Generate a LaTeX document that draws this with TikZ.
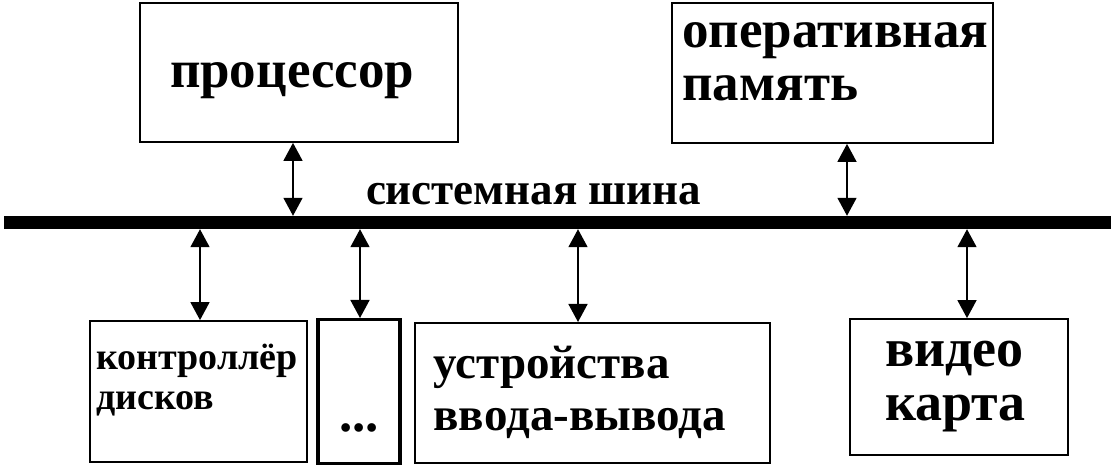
\documentclass[tikz,border=0pt]{standalone}
\usepackage{fontspec}
\setmainfont{Liberation Serif}
\usetikzlibrary{arrows.meta,positioning}
\tikzset{
  blok/.style    = {draw, line width=1.8pt, inner ysep=0pt, align=left},
  kropki/.style  = {draw, line width=3.4pt, inner sep=0pt},
  shina/.style   = {fill=black, inner sep=0pt, minimum width=1107pt, minimum height=13pt},
  strelka/.style = {{Triangle[length=18pt,width=19pt]}-{Triangle[length=18pt,width=19pt]},
                    line width=1.6pt},
  bolshoj/.style = {font=\fontsize{53}{53}\selectfont\bfseries},
  srednij/.style = {font=\fontsize{47}{52}\selectfont\bfseries},
  malyj/.style   = {font=\fontsize{38}{40}\selectfont\bfseries},
}

\begin{document}
\begin{tikzpicture}[x=1pt, y=1pt, node distance=11pt and 12pt]
  \useasboundingbox (0,0) rectangle (1116,466);

  \node[shina] (shina) at (557.5,243.5) {};
  \node[font=\fontsize{45}{45}\selectfont\bfseries, anchor=base] (nazv) at (533.5,261) {системная шина};

  \node[blok, bolshoj, minimum width=318pt, minimum height=139pt, inner xsep=30pt, text width=258pt,
        text height=31pt, text depth=0pt] (proc) at (299,393.5) {процессор};
  \node[blok, minimum width=321pt, minimum height=140pt,
        label={[bolshoj, align=left, anchor=north west, inner sep=0pt, xshift=11pt, yshift=-20pt]north west:оперативная\\память}]
        (ozu) at (832.5,393) {};

  \node[blok, minimum width=217pt, minimum height=141pt,
        label={[malyj, align=left, anchor=north west, inner sep=0pt, xshift=7pt, yshift=-24pt]north west:контроллёр\\дисков}]
        (kontr) at (198.5,74.5) {};
  \node[kropki, minimum width=82pt, minimum height=144pt, anchor=north,
        label={[bolshoj, anchor=south, yshift=30pt]south:...}]
        (dots) at (359,148) {};
  \node[blok, srednij, minimum width=355pt, minimum height=140pt, inner xsep=19pt, text width=317pt,
        right=12pt of dots.north east, anchor=north west, yshift=-4pt] (vvod) {устройства\\ввода-вывода};
  \node[blok, bolshoj, minimum width=218pt, minimum height=136pt, inner xsep=35pt, text width=148pt,
        font=\fontsize{54}{54}\selectfont\bfseries] (video) at (959,79) {видео\\карта};

  % точки подключения к шине
  \coordinate (xproc) at (293,0);
  \coordinate (xozu)  at (847,0);
  \coordinate (xkontr) at (200,0);
  \coordinate (xdots) at (360,0);
  \coordinate (xvvod) at (578,0);
  \coordinate (xvideo) at (967,0);

  \draw[strelka] (xproc |- proc.south) -- (xproc |- shina.north);
  \draw[strelka] (xozu |- ozu.south) -- (xozu |- shina.north);
  \draw[strelka] (xkontr |- shina.south) -- (xkontr |- kontr.north);
  \draw[strelka] (xdots |- shina.south) -- (xdots |- dots.north);
  \draw[strelka] (xvvod |- shina.south) -- (xvvod |- vvod.north);
  \draw[strelka] (xvideo |- shina.south) -- (xvideo |- video.north);
\end{tikzpicture}
\end{document}
